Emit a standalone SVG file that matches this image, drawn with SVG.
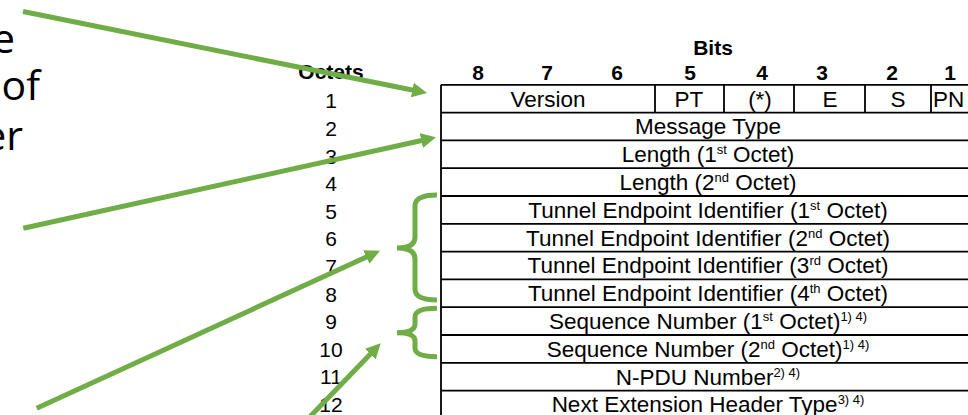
<svg xmlns="http://www.w3.org/2000/svg" width="968" height="415" viewBox="0 0 968 415">
<defs>
<style>
.t{font-family:"Liberation Sans",Arial,sans-serif;font-size:22.5px;fill:#000;text-anchor:middle}
.b{font-family:"Liberation Sans",Arial,sans-serif;font-size:21px;font-weight:bold;fill:#000;text-anchor:middle}
.n{font-family:"Liberation Sans",Arial,sans-serif;font-size:21px;fill:#000;text-anchor:middle}
.big{font-family:"Open Sans","Noto Sans",sans-serif;font-size:41px;fill:#000;text-anchor:end}
.sup{font-size:13px}
.ln{stroke:#000;stroke-width:1.8;fill:none}
.g{stroke:#70AD47;stroke-width:5;fill:none}
</style>
<marker id="ah" markerUnits="userSpaceOnUse" markerWidth="16" markerHeight="16" viewBox="0 -8 16 16" refX="5" refY="0" orient="auto">
<path d="M0,-7.5 L15,0 L0,7.5 Z" fill="#70AD47"/>
</marker>
</defs>
<rect width="968" height="415" fill="#fff"/>

<g id="left-text">
<text class="big" x="15" y="53">e</text>
<text class="big" x="40" y="100">of</text>
<text class="big" x="23" y="150">er</text>
</g>

<g id="octets-column">
<text class="b" x="331" y="79">Octets</text>
<text class="n" x="331" y="108.3">1</text>
<text class="n" x="331" y="135.9">2</text>
<text class="n" x="331" y="163.5">3</text>
<text class="n" x="331" y="191.1">4</text>
<text class="n" x="331" y="218.7">5</text>
<text class="n" x="331" y="246.3">6</text>
<text class="n" x="331" y="273.9">7</text>
<text class="n" x="331" y="301.5">8</text>
<text class="n" x="331" y="329.1">9</text>
<text class="n" x="331" y="356.7">10</text>
<text class="n" x="331" y="384.3">11</text>
<text class="n" x="331" y="411.9">12</text>
</g>

<g id="bits-header">
<text class="b" x="713" y="55">Bits</text>
<text class="b" x="478" y="80">8</text>
<text class="b" x="547" y="80">7</text>
<text class="b" x="617" y="80">6</text>
<text class="b" x="690" y="80">5</text>
<text class="b" x="762" y="80">4</text>
<text class="b" x="822" y="80">3</text>
<text class="b" x="892" y="80">2</text>
<text class="b" x="950" y="80">1</text>
</g>

<g id="table-grid">
<path class="ln" d="M441,84.8 V418 M441,84.8 H1000 M441,112.6 H1000 M441,140.4 H1000 M441,168.2 H1000 M441,196 H1000 M441,223.8 H1000 M441,251.6 H1000 M441,279.4 H1000 M441,307.2 H1000 M441,335 H1000 M441,362.8 H1000 M441,390.6 H1000 M441,418.4 H1000"/>
<path class="ln" d="M655,84.8 V112.6 M724,84.8 V112.6 M794,84.8 V112.6 M865,84.8 V112.6 M931,84.8 V112.6"/>
</g>

<g id="row-1">
<text class="t" x="548" y="106.6">Version</text>
<text class="t" x="689" y="106.6">PT</text>
<text class="t" x="760" y="106.6">(*)</text>
<text class="t" x="830" y="106.6">E</text>
<text class="t" x="898" y="106.6">S</text>
<text class="t" x="933" y="106.6" style="text-anchor:start">PN</text>
</g>
<g id="row-2"><text class="t" x="708" y="134.4">Message Type</text></g>
<g id="row-3"><text class="t" x="708" y="162.2">Length (1<tspan class="sup" dy="-8">st</tspan><tspan dy="8"> Octet)</tspan></text></g>
<g id="row-4"><text class="t" x="708" y="190">Length (2<tspan class="sup" dy="-8">nd</tspan><tspan dy="8"> Octet)</tspan></text></g>
<g id="row-5"><text class="t" x="708" y="217.8">Tunnel Endpoint Identifier (1<tspan class="sup" dy="-8">st</tspan><tspan dy="8"> Octet)</tspan></text></g>
<g id="row-6"><text class="t" x="708" y="245.6">Tunnel Endpoint Identifier (2<tspan class="sup" dy="-8">nd</tspan><tspan dy="8"> Octet)</tspan></text></g>
<g id="row-7"><text class="t" x="708" y="273.4">Tunnel Endpoint Identifier (3<tspan class="sup" dy="-8">rd</tspan><tspan dy="8"> Octet)</tspan></text></g>
<g id="row-8"><text class="t" x="708" y="301.2">Tunnel Endpoint Identifier (4<tspan class="sup" dy="-8">th</tspan><tspan dy="8"> Octet)</tspan></text></g>
<g id="row-9"><text class="t" x="708" y="329">Sequence Number (1<tspan class="sup" dy="-8">st</tspan><tspan dy="8"> Octet)</tspan><tspan class="sup" dy="-8">1) 4)</tspan></text></g>
<g id="row-10"><text class="t" x="708" y="356.8">Sequence Number (2<tspan class="sup" dy="-8">nd</tspan><tspan dy="8"> Octet)</tspan><tspan class="sup" dy="-8">1) 4)</tspan></text></g>
<g id="row-11"><text class="t" x="708" y="384.6">N-PDU Number<tspan class="sup" dy="-8">2) 4)</tspan></text></g>
<g id="row-12"><text class="t" x="708" y="411.5">Next Extension Header Type<tspan class="sup" dy="-8">3) 4)</tspan></text></g>

<g id="braces">
<path class="g" d="M437,195 Q415,195 415,206 L415,237 Q415,248 397,248 Q415,248 415,259 L415,289 Q415,300 437,300"/>
<path class="g" d="M437,308.3 Q415,308.3 415,317 L415,324 Q415,332.7 397,332.7 Q415,332.7 415,341 L415,348 Q415,356.7 437,356.7"/>
</g>

<g id="connectors">
<line class="g" x1="23" y1="11.5" x2="417.2" y2="91" marker-end="url(#ah)"/>
<line class="g" x1="23.3" y1="228.3" x2="426.2" y2="139.5" marker-end="url(#ah)"/>
<line class="g" x1="36.7" y1="408.3" x2="370.9" y2="254.9" marker-end="url(#ah)"/>
<line class="g" x1="308.2" y1="418.6" x2="373.8" y2="350.5" marker-end="url(#ah)"/>
</g>
</svg>
